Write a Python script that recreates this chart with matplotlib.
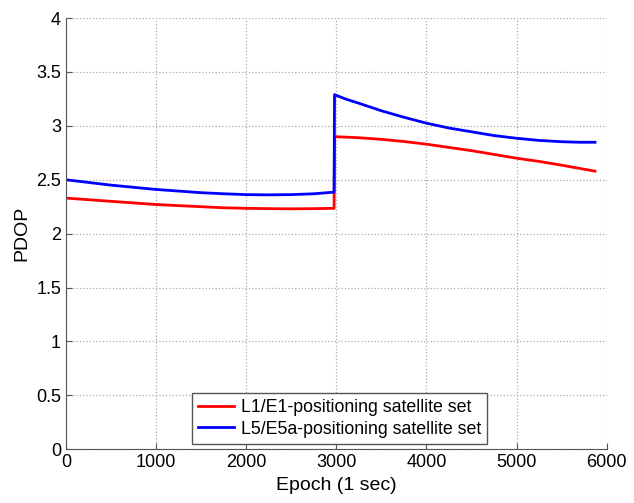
import numpy as np
import matplotlib.pyplot as plt

plt.rcParams['font.family'] = ['Liberation Sans', 'DejaVu Sans']

# Valeurs
epoch_l1 = [0, 250, 500, 750, 1000, 1250, 1500, 1750, 2000, 2250, 2500, 2750, 2975,
            2980, 3250, 3500, 3750, 4000, 4250, 4500, 4750, 5000, 5250, 5500, 5870]
pdop_l1 = [2.33, 2.315, 2.30, 2.285, 2.27, 2.26, 2.25, 2.24, 2.235, 2.232, 2.23, 2.232, 2.235,
           2.90, 2.89, 2.875, 2.855, 2.83, 2.80, 2.77, 2.735, 2.70, 2.67, 2.635, 2.58]

epoch_l5 = [0, 250, 500, 750, 1000, 1250, 1500, 1750, 2000, 2250, 2500, 2750, 2975,
            2980, 3100, 3250, 3500, 3750, 4000, 4250, 4500, 4750, 5000, 5250, 5500, 5700, 5870]
pdop_l5 = [2.50, 2.475, 2.45, 2.43, 2.41, 2.395, 2.38, 2.37, 2.362, 2.36, 2.362, 2.37, 2.385,
           3.29, 3.25, 3.21, 3.14, 3.08, 3.025, 2.98, 2.945, 2.91, 2.885, 2.865, 2.853, 2.848, 2.848]

labels = ["L1/E1-positioning satellite set", "L5/E5a-positioning satellite set"]

fig = plt.figure(figsize=(6.34, 5.03), dpi=100)
ax = fig.add_axes([0.104, 0.107, 0.853, 0.857])

ax.plot(epoch_l1, pdop_l1, color="red", lw=2, label=labels[0])
ax.plot(epoch_l5, pdop_l5, color="blue", lw=2, label=labels[1])

ax.set_xlim(0, 6000)
ax.set_ylim(0, 4)
ax.set_xticks(np.arange(0, 6001, 1000))
ax.set_yticks(np.arange(0, 4.01, 0.5))
ax.set_yticklabels(["0", "0.5", "1", "1.5", "2", "2.5", "3", "3.5", "4"])
ax.grid(True, linestyle=":", color="#aaaaaa", lw=0.9)
ax.tick_params(labelsize=13, direction="in", length=4, color="#555555")
ax.spines["top"].set_visible(False)
ax.spines["right"].set_visible(False)
for s in ["left", "bottom"]:
    ax.spines[s].set_color("#555555")

ax.set_xlabel("Epoch (1 sec)", fontsize=14)
ax.set_ylabel("PDOP", fontsize=14)

leg = ax.legend(loc="lower center", bbox_to_anchor=(0.506, 0.0), fontsize=12.8,
                fancybox=False, edgecolor="#555555", framealpha=1,
                handlelength=2.0, borderpad=0.35, labelspacing=0.25,
                borderaxespad=0.3, handletextpad=0.4)
leg.get_frame().set_linewidth(1.0)

fig.savefig("out.png", dpi=100)
